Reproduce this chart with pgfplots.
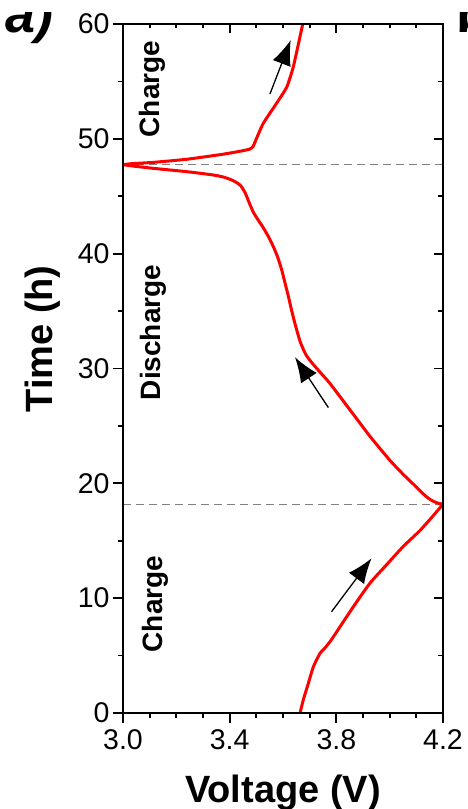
\documentclass[border=0pt]{standalone}
\usepackage{fontspec}
\setmainfont{Liberation Sans}
\usepackage{pgfplots}
\usepackage{pgfplotstable}
\pgfplotsset{compat=1.18}
\usetikzlibrary{arrows.meta}

% voltage (V) vs time (h), one table per step
\pgfplotstableread{
V t
3.664 0
3.676 1.13
3.695 2.58
3.714 4.03
3.739 5.2
3.755 5.6
3.776 6.2
3.795 6.85
3.864 9.26
3.926 11.3
3.988 12.9
4.051 14.5
4.114 15.9
4.164 17.2
4.2 18.18
}\chargeA
\pgfplotstableread{
V t
4.2 18.18
4.185 18.25
4.165 18.42
4.145 18.7
4.125 19.1
4.101 19.65
4.05 20.8
4.001 22.0
3.926 24.1
3.851 26.4
3.776 28.7
3.74 29.65
3.71 30.45
3.686 31.2
3.665 32.3
3.645 33.9
3.632 35.1
3.62 36.3
3.607 37.5
3.595 38.6
3.58 39.7
3.564 40.6
3.545 41.5
3.525 42.3
3.505 43.0
3.489 43.6
3.474 44.4
3.458 45.3
3.44 45.95
3.414 46.35
3.38 46.65
3.339 46.85
3.239 47.14
3.114 47.43
3.034 47.64
3.0 47.75
}\discharge
\pgfplotstableread{
V t
3.0 47.75
3.034 47.84
3.114 47.95
3.239 48.22
3.364 48.62
3.43 48.88
3.475 49.1
3.488 49.35
3.501 50.05
3.526 51.35
3.576 53.1
3.614 54.5
3.639 56.3
3.674 60
}\chargeB

\begin{document}
\begin{tikzpicture}
\useasboundingbox (-123pt,-96pt) rectangle (344pt,713pt);
\clip (-123pt,-96pt) rectangle (344pt,713pt);
\begin{axis}[
  at={(0,0)}, anchor=south west,
  scale only axis, width=320pt, height=689pt,
  xmin=3.0, xmax=4.2, ymin=0, ymax=60,
  xtick={3.0,3.4,3.8,4.2}, ytick={0,10,20,30,40,50,60},
  minor x tick num=3, minor y tick num=1,
  xtick pos=left, ytick pos=left,
  tick align=outside,
  major tick length=10pt, minor tick length=5pt,
  tick style={black, line width=1.8pt},
  axis line style={line width=2pt},
  /pgf/number format/assume math mode=true,
  xticklabel style={/pgf/number format/fixed, /pgf/number format/fixed zerofill, /pgf/number format/precision=1, yshift=-3pt},
  ticklabel style={font=\fontsize{28.5}{28.5}\selectfont},
  xlabel={Voltage (V)}, ylabel={Time (h)},
  label style={font=\fontsize{38}{38}\selectfont\bfseries},
  xlabel style={at={(axis description cs:0.5,-0.1306)}, anchor=base},
  ylabel style={at={(axis description cs:-0.21875,0.543)}, anchor=base},
]
\addplot[gray, line width=1.3pt, dash pattern=on 8pt off 5pt] coordinates {(3.0,47.75) (4.2,47.75)};
\addplot[gray, line width=1.3pt, dash pattern=on 8pt off 5pt] coordinates {(3.0,18.18) (4.2,18.18)};
\addplot[red, line width=3pt, line join=round, smooth, tension=0.4] table[x=V, y=t] {\chargeA};
\addplot[red, line width=3pt, line join=round, smooth, tension=0.4] table[x=V, y=t] {\discharge};
\addplot[red, line width=3pt, line join=round, smooth, tension=0.3] table[x=V, y=t] {\chargeB};

\draw[line width=1.3pt, -{Latex[length=25pt,width=19pt]}] (axis cs:3.782,8.82) -- (axis cs:3.932,13.47);
\draw[line width=1.3pt, -{Latex[length=25pt,width=19pt]}] (axis cs:3.77,26.6) -- (axis cs:3.645,30.98);
\draw[line width=1.3pt, -{Latex[length=25pt,width=19pt]}] (axis cs:3.551,53.9) -- (axis cs:3.629,58.6);

\node[rotate=90, font=\fontsize{28}{28}\selectfont\bfseries] at (axis cs:3.1106,54.34) {Charge};
\node[rotate=90, font=\fontsize{28}{28}\selectfont\bfseries] at (axis cs:3.114,33.14) {Discharge};
\node[rotate=90, font=\fontsize{28}{28}\selectfont\bfseries] at (axis cs:3.12,9.49) {Charge};
\end{axis}
\begin{axis}[
  at={(0,0)}, anchor=south west,
  scale only axis, width=320pt, height=689pt,
  xmin=3.0, xmax=4.2, ymin=0, ymax=60,
  xtick={3.0,3.4,3.8,4.2}, ytick={0,10,20,30,40,50,60},
  minor x tick num=3, minor y tick num=1,
  xtick pos=right, ytick pos=right,
  tick align=inside,
  major tick length=9pt, minor tick length=4.5pt,
  tick style={black, line width=1.8pt},
  axis line style={line width=2pt},
  xticklabels={}, yticklabels={},
]
\end{axis}
\begin{scope}
\clip (-123pt,-96pt) rectangle (344pt,700pt);
\node[anchor=base west, inner sep=0pt, font=\fontsize{54}{54}\selectfont\bfseries\itshape] at (-118pt,680pt) {a)};
\node[anchor=base west, inner sep=0pt, font=\fontsize{54}{54}\selectfont\bfseries] at (333pt,680pt) {b)};
\end{scope}
\end{tikzpicture}
\end{document}
